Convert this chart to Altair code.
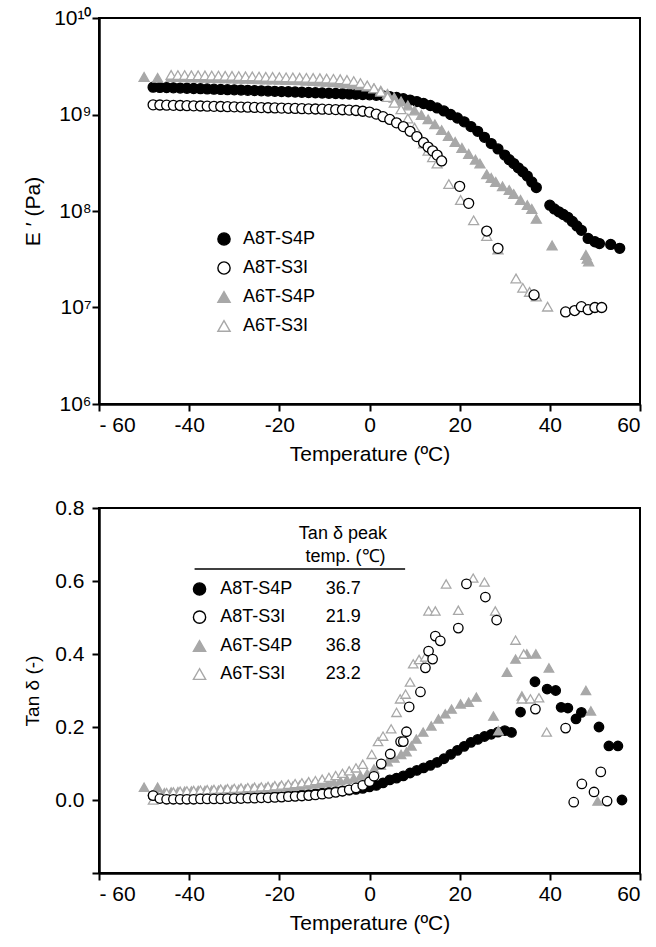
import altair as alt
import pandas as pd

FONT = "Liberation Sans"
SERIES = ["A8T-S4P", "A8T-S3I", "A6T-S4P", "A6T-S3I"]
SHAPES = ["circle", "circle", "triangle-up", "triangle-up"]
FILLS = ["black", "white", "#a8a8a8", "white"]
STROKES = ["black", "black", "#a8a8a8", "#a8a8a8"]

# ---------------- Storage modulus E' (Pa) ----------------
e_a8s4p_t = [-48, -46.5, -45, -43.5, -42, -40.5, -39, -37.5, -36, -34.5, -33, -31.5, -30, -28.5, -27, -25.5,
             -24, -22.5, -21, -19.5, -18, -16.5, -15, -13.5, -12, -10.5, -9, -7.5, -6, -4.5, -3, -1.5, 0, 1.5,
             3, 4.5, 6, 7.5, 9, 10.5, 12, 13.5, 15, 16.5, 18, 19.5, 21, 22.5, 24, 25.5, 27, 28.5, 30, 31, 32,
             33, 34, 35, 36, 37, 40, 41, 42, 43, 44, 45, 46, 47, 48.5, 50, 51, 53.5, 55.5]
e_a8s4p_v = [1.92e9, 1.91e9, 1.90e9, 1.89e9, 1.88e9, 1.87e9, 1.86e9, 1.85e9, 1.84e9, 1.83e9, 1.82e9, 1.81e9,
             1.80e9, 1.79e9, 1.78e9, 1.77e9, 1.76e9, 1.75e9, 1.74e9, 1.73e9, 1.72e9, 1.71e9, 1.70e9, 1.69e9,
             1.68e9, 1.67e9, 1.66e9, 1.65e9, 1.64e9, 1.63e9, 1.62e9, 1.61e9, 1.60e9, 1.58e9, 1.56e9, 1.53e9,
             1.50e9, 1.46e9, 1.41e9, 1.36e9, 1.30e9, 1.24e9, 1.17e9, 1.09e9, 1.00e9, 9.2e8, 8.4e8, 7.5e8,
             6.7e8, 5.8e8, 5.0e8, 4.4e8, 3.8e8, 3.4e8, 3.1e8, 2.8e8, 2.55e8, 2.3e8, 2.0e8, 1.75e8, 1.15e8,
             1.05e8, 9.8e7, 9.2e7, 8.6e7, 7.8e7, 7.0e7, 6.3e7, 5.2e7, 4.8e7, 4.6e7, 4.5e7, 4.1e7]

e_a8s3i_t = [-48, -46.5, -45, -43.5, -42, -40.5, -39, -37.5, -36, -34.5, -33, -31.5, -30, -28.5, -27, -25.5,
             -24, -22.5, -21, -19.5, -18, -16.5, -15, -13.5, -12, -10.5, -9, -7.5, -6, -4.5, -3, -1.5, 0, 1.5,
             3, 4.5, 6, 7.5, 9, 10.5, 12, 13, 14, 15, 16, 20, 22, 26, 28.5, 36.5, 43.5, 45.5, 47, 48.5, 50, 51.5]
e_a8s3i_v = [1.26e9, 1.255e9, 1.25e9, 1.245e9, 1.24e9, 1.235e9, 1.23e9, 1.225e9, 1.22e9, 1.215e9, 1.21e9,
             1.205e9, 1.2e9, 1.195e9, 1.19e9, 1.185e9, 1.18e9, 1.175e9, 1.17e9, 1.165e9, 1.16e9, 1.155e9,
             1.15e9, 1.145e9, 1.14e9, 1.135e9, 1.13e9, 1.125e9, 1.12e9, 1.11e9, 1.10e9, 1.08e9, 1.06e9,
             1.01e9, 9.5e8, 8.9e8, 8.2e8, 7.5e8, 6.7e8, 5.9e8, 5.1e8, 4.6e8, 4.2e8, 3.8e8, 3.3e8, 1.8e8,
             1.2e8, 6.2e7, 4.1e7, 1.35e7, 9.0e6, 9.3e6, 1.02e7, 9.5e6, 1.0e7, 1.0e7]

e_a6s4p_t = [-50, -47, -44, -42.5, -41, -39.5, -38, -36.5, -35, -33.5, -32, -30.5, -29, -27.5, -26, -24.5,
             -23, -21.5, -20, -18.5, -17, -15.5, -14, -12.5, -11, -9.5, -8, -6.5, -5, -3.5, -2, -0.5, 1, 2.5,
             4, 5.5, 7, 8.5, 10, 11.5, 13, 14.5, 16, 17.5, 19, 20.5, 22, 23.5, 24.5, 26, 27, 28, 29.5, 31, 32,
             33.5, 35, 36, 37, 40.5, 48, 48.3, 48.6]
e_a6s4p_v = [2.45e9, 2.40e9, 2.45e9, 2.44e9, 2.43e9, 2.42e9, 2.41e9, 2.40e9, 2.39e9, 2.38e9, 2.37e9, 2.36e9,
             2.35e9, 2.34e9, 2.33e9, 2.32e9, 2.31e9, 2.30e9, 2.29e9, 2.28e9, 2.27e9, 2.26e9, 2.24e9, 2.22e9,
             2.20e9, 2.18e9, 2.16e9, 2.13e9, 2.10e9, 2.06e9, 2.01e9, 1.95e9, 1.87e9, 1.77e9, 1.64e9, 1.50e9,
             1.37e9, 1.24e9, 1.10e9, 9.9e8, 8.9e8, 7.9e8, 6.9e8, 6.0e8, 5.2e8, 4.5e8, 3.9e8, 3.4e8, 3.1e8,
             2.4e8, 2.2e8, 2.0e8, 1.8e8, 1.65e8, 1.5e8, 1.3e8, 1.15e8, 1.05e8, 8.3e7, 4.4e7, 3.5e7, 3.2e7, 3.0e7]

e_a6s3i_t = [-44, -42.5, -41, -39.5, -38, -36.5, -35, -33.5, -32, -30.5, -29, -27.5, -26, -24.5, -23, -21.5,
             -20, -18.5, -17, -15.5, -14, -12.5, -11, -9.5, -8, -6.5, -5, -3.5, -2, -0.5, 1, 2.5, 4, 5.5, 7,
             8.5, 10, 11, 12, 13, 14, 15, 17.6, 20.2, 23.1, 26, 28.5, 32.5, 34, 35.5, 37, 39.5]
e_a6s3i_v = [2.57e9, 2.56e9, 2.56e9, 2.55e9, 2.55e9, 2.54e9, 2.53e9, 2.53e9, 2.52e9, 2.51e9, 2.50e9, 2.49e9,
             2.48e9, 2.47e9, 2.46e9, 2.45e9, 2.44e9, 2.43e9, 2.42e9, 2.41e9, 2.40e9, 2.39e9, 2.38e9, 2.36e9,
             2.34e9, 2.32e9, 2.28e9, 2.22e9, 2.12e9, 2.0e9, 1.87e9, 1.72e9, 1.52e9, 1.32e9, 1.13e9, 9.1e8,
             7.3e8, 6.1e8, 5.0e8, 4.2e8, 3.6e8, 3.1e8, 1.9e8, 1.3e8, 8.0e7, 5.5e7, 4.0e7, 2.0e7, 1.6e7,
             1.45e7, 1.3e7, 1.02e7]

# ---------------- Tan delta ----------------
d_a8s4p_t = [-48, -46.5, -45, -43.5, -42, -40.5, -39, -37.5, -36, -34.5, -33, -31.5, -30, -28.5, -27, -25.5,
             -24, -22.5, -21, -19.5, -18, -16.5, -15, -13.5, -12, -10.5, -9, -7.5, -6, -4.5, -3, -1.5, 0, 1.5,
             3, 4.5, 6, 7.5, 9, 10.5, 12, 13.5, 15, 16.5, 18, 19.5, 21, 22.5, 24, 25.5, 27, 28.5, 30, 31.5,
             33.5, 36.7, 39.4, 41.3, 42.5, 44, 45.8, 47, 50.9, 53.1, 55.1, 56]
d_a8s4p_v = [0.012, 0.006, 0.005, 0.005, 0.005, 0.005, 0.005, 0.006, 0.006, 0.006, 0.006, 0.007, 0.007, 0.007,
             0.008, 0.008, 0.009, 0.009, 0.010, 0.011, 0.012, 0.013, 0.014, 0.015, 0.017, 0.019, 0.021, 0.023,
             0.025, 0.027, 0.029, 0.032, 0.036, 0.040, 0.047, 0.055, 0.060, 0.066, 0.074, 0.081, 0.088, 0.095,
             0.103, 0.113, 0.125, 0.136, 0.147, 0.158, 0.166, 0.174, 0.180, 0.186, 0.190, 0.185,
             0.241, 0.324, 0.304, 0.300, 0.254, 0.252, 0.222, 0.240, 0.200, 0.148, 0.148, 0.0]

d_a8s3i_t = [-48, -46.5, -45, -43.5, -42, -40.5, -39, -37.5, -36, -34.5, -33, -31.5, -30, -28.5, -27, -25.5,
             -24, -22.5, -21, -19.5, -18, -16.5, -15, -13.5, -12, -10.5, -9, -7.5, -6, -4.5, -3, -1.5, 0, 1,
             2.6, 4.6, 6.9, 7.5, 8.2, 8.8, 11.3, 12.4, 13.1, 14, 14.6, 15.7, 19.7, 21.5, 25.7, 28.2, 36.8,
             43.5, 45.3, 47.1, 49.8, 51.3, 52.7]
d_a8s3i_v = [0.012, 0.004, 0.002, 0.002, 0.002, 0.002, 0.002, 0.003, 0.003, 0.003, 0.003, 0.004, 0.004, 0.004,
             0.005, 0.005, 0.006, 0.006, 0.007, 0.008, 0.009, 0.010, 0.011, 0.012, 0.014, 0.016, 0.018, 0.021,
             0.024, 0.028, 0.033, 0.040, 0.050, 0.065, 0.099, 0.126, 0.160, 0.160, 0.187, 0.255, 0.296,
             0.362, 0.408, 0.386, 0.449, 0.436, 0.471, 0.592, 0.556, 0.493, 0.249, 0.197, -0.006, 0.044,
             0.022, 0.077, -0.003]

d_a6s4p_t = [-50, -47, -45.5, -44, -42.5, -41, -39.5, -38, -36.5, -35, -33.5, -32, -30.5, -29, -27.5, -26,
             -24.5, -23, -21.5, -20, -18.5, -17, -15.5, -14, -12.5, -11, -9.5, -8, -6.5, -5, -3.5, -2, -0.5,
             1, 2.5, 4, 5.5, 7, 8.2, 9.3, 10.4, 11.9, 13.7, 15.3, 16.8, 18.2, 20.2, 22, 23.7, 27.5, 28.6, 30.5,
             32.4, 33.8, 34.9, 36.9, 39.8, 48, 49.1, 50.6]
d_a6s4p_v = [0.035, 0.035, 0.020, 0.022, 0.023, 0.024, 0.025, 0.026, 0.026, 0.027, 0.027, 0.028, 0.028, 0.029,
             0.030, 0.031, 0.032, 0.033, 0.034, 0.035, 0.036, 0.038, 0.040, 0.042, 0.044, 0.046, 0.048, 0.050,
             0.053, 0.056, 0.060, 0.066, 0.072, 0.085, 0.095, 0.105, 0.115, 0.125, 0.132, 0.148, 0.167, 0.186,
             0.203, 0.222, 0.236, 0.249, 0.263, 0.268, 0.282, 0.230, 0.190, 0.350, 0.386, 0.285, 0.400,
             0.400, 0.362, 0.300, 0.244, -0.003]

d_a6s3i_t = [-48, -46.5, -45, -43.5, -42, -40.5, -39, -37.5, -36, -34.5, -33, -31.5, -30, -28.5, -27, -25.5,
             -24, -22.5, -21, -19.5, -18, -16.5, -15, -13.5, -12, -10.5, -9, -7.5, -6, -4.5, -3, -1.5, 0.5,
             1.9, 3, 4.8, 6, 6.8, 8, 9, 9.7, 11, 12.4, 13.1, 14.6, 17, 19.7, 23, 25.5, 27.9, 32.4, 34.2, 33.8,
             35.7, 37.6, 39.3]
d_a6s3i_v = [0.0, 0.015, 0.020, 0.022, 0.024, 0.025, 0.026, 0.027, 0.028, 0.029, 0.030, 0.031, 0.032, 0.033,
             0.034, 0.035, 0.036, 0.037, 0.039, 0.041, 0.043, 0.045, 0.047, 0.050, 0.053, 0.057, 0.062, 0.067,
             0.073, 0.080, 0.088, 0.098, 0.125, 0.160, 0.175, 0.195, 0.240, 0.277, 0.290, 0.323, 0.373, 0.385,
             0.392, 0.518, 0.518, 0.592, 0.520, 0.608, 0.597, 0.518, 0.438, 0.400, 0.277, 0.277, 0.280, 0.186]

# ---------------- Tan delta peak table ----------------
table_rows_y = [0.578, 0.501, 0.422, 0.345]
table_values = ["36.7", "21.9", "36.8", "23.2"]
table_symbol_x = -37.7
table_name_x = -33.1
table_value_x = -9.7
header_lines = ["Tan δ peak", "temp. (℃)"]
header_x = [-5.9, -5.3]
header_y = [0.729, 0.666]
rule_x = [-38.8, 7.9]
rule_y = 0.633

DRAW_ORDER = ["A8T-S4P", "A6T-S4P", "A6T-S3I", "A8T-S3I"]


def frame(pairs):
    rows = []
    order = {s: i for i, s in enumerate(DRAW_ORDER)}
    for name, ts, vs in pairs:
        for t, v in zip(ts, vs):
            rows.append({"series": name, "T": t, "v": v, "o": order[name]})
    return pd.DataFrame(rows).sort_values("o", kind="stable")


df_e = frame([("A8T-S4P", e_a8s4p_t, e_a8s4p_v), ("A8T-S3I", e_a8s3i_t, e_a8s3i_v),
              ("A6T-S4P", e_a6s4p_t, e_a6s4p_v), ("A6T-S3I", e_a6s3i_t, e_a6s3i_v)])
df_d = frame([("A8T-S4P", d_a8s4p_t, d_a8s4p_v), ("A8T-S3I", d_a8s3i_t, d_a8s3i_v),
              ("A6T-S4P", d_a6s4p_t, d_a6s4p_v), ("A6T-S3I", d_a6s3i_t, d_a6s3i_v)])

shape_scale = alt.Scale(domain=SERIES, range=SHAPES)
fill_scale = alt.Scale(domain=SERIES, range=FILLS)
stroke_scale = alt.Scale(domain=SERIES, range=STROKES)

x_axis = alt.Axis(values=[-60, -40, -20, 0, 20, 40, 60],
                  labelExpr="datum.value == -60 ? '- 60' : '' + datum.value",
                  title="Temperature (ºC)", labelPadding=3, titlePadding=8)
x_scale = alt.Scale(domain=[-60, 60], nice=False, zero=False)

legend = alt.Legend(title=None, orient="none", legendX=116, legendY=212, symbolSize=150,
                    symbolStrokeWidth=1.4, labelFontSize=18, labelFont=FONT, rowPadding=11,
                    labelOffset=10, padding=0)

W = 541

top = alt.Chart(df_e).mark_point(opacity=1, size=100, strokeWidth=1.3).encode(
    x=alt.X("T:Q", scale=x_scale, axis=x_axis),
    y=alt.Y("v:Q", scale=alt.Scale(type="log", domain=[1e6, 1e10], nice=False),
            axis=alt.Axis(values=[1e6, 1e7, 1e8, 1e9, 1e10], title="E ′ (Pa)", labelPadding=1,
                          titlePadding=10,
                          labelExpr="datum.value >= 1e10 ? '10¹⁰' : datum.value >= 1e9 ? '10⁹' : "
                                    "datum.value >= 1e8 ? '10⁸' : datum.value >= 1e7 ? '10⁷' : '10⁶'")),
    shape=alt.Shape("series:N", scale=shape_scale, legend=legend),
    fill=alt.Fill("series:N", scale=fill_scale, legend=legend),
    stroke=alt.Stroke("series:N", scale=stroke_scale, legend=legend),
    order=alt.Order("o:Q"),
).properties(width=W, height=386)

# bottom
y_scale_d = alt.Scale(domain=[-0.2, 0.8], nice=False, zero=False)
y_axis_d = alt.Axis(values=[-0.2, 0, 0.2, 0.4, 0.6, 0.8], format=".1f", title="Tan δ  (-)",
                    labelExpr="datum.value < -0.1 ? '' : datum.label", labelPadding=8, titlePadding=12,
                    titleFontSize=19)

pts = alt.Chart(df_d).mark_point(opacity=1, size=90, strokeWidth=1.3).encode(
    x=alt.X("T:Q", scale=x_scale, axis=x_axis),
    y=alt.Y("v:Q", scale=y_scale_d, axis=y_axis_d),
    shape=alt.Shape("series:N", scale=shape_scale, legend=None),
    fill=alt.Fill("series:N", scale=fill_scale, legend=None),
    stroke=alt.Stroke("series:N", scale=stroke_scale, legend=None),
    order=alt.Order("o:Q"),
)

df_tab = pd.DataFrame({"series": SERIES, "y": table_rows_y, "val": table_values,
                       "sx": [table_symbol_x] * 4, "nx": [table_name_x] * 4, "vx": [table_value_x] * 4})

tab_sym = alt.Chart(df_tab).mark_point(opacity=1, size=150, strokeWidth=1.4).encode(
    x=alt.X("sx:Q", scale=x_scale),
    y=alt.Y("y:Q", scale=y_scale_d),
    shape=alt.Shape("series:N", scale=shape_scale, legend=None),
    fill=alt.Fill("series:N", scale=fill_scale, legend=None),
    stroke=alt.Stroke("series:N", scale=stroke_scale, legend=None),
)
tab_names = alt.Chart(df_tab).mark_text(align="left", baseline="middle", fontSize=18, font=FONT,
                                        color="black").encode(
    x=alt.X("nx:Q", scale=x_scale), y=alt.Y("y:Q", scale=y_scale_d), text="series:N")
tab_vals = alt.Chart(df_tab).mark_text(align="left", baseline="middle", fontSize=18, font=FONT,
                                       color="black").encode(
    x=alt.X("vx:Q", scale=x_scale), y=alt.Y("y:Q", scale=y_scale_d), text="val:N")

df_head = pd.DataFrame({"t": header_lines, "x": header_x, "y": header_y})
tab_head = alt.Chart(df_head).mark_text(align="center", baseline="middle", fontSize=18, font=FONT,
                                        color="black").encode(
    x=alt.X("x:Q", scale=x_scale), y=alt.Y("y:Q", scale=y_scale_d), text="t:N")
df_rule = pd.DataFrame({"x": [rule_x[0]], "x2": [rule_x[1]], "y": [rule_y]})
tab_rule = alt.Chart(df_rule).mark_rule(color="black", strokeWidth=1.5).encode(
    x=alt.X("x:Q", scale=x_scale), x2="x2:Q", y=alt.Y("y:Q", scale=y_scale_d))

bottom = alt.layer(pts, tab_rule, tab_head, tab_sym, tab_names, tab_vals).properties(width=W, height=365)

chart = alt.vconcat(top, bottom, spacing=31).resolve_scale(
    shape="independent", fill="independent", stroke="independent"
).resolve_legend(shape="independent", fill="independent", stroke="independent").properties(
    padding={"left": 21, "top": 6, "right": 0, "bottom": 5}
).configure(font=FONT).configure_view(stroke="black", strokeWidth=2).configure_axis(
    grid=False, domainColor="black", domainWidth=2.5, tickColor="black", tickWidth=2, tickSize=7,
    labelColor="black", titleColor="black", labelFont=FONT, titleFont=FONT, labelFontSize=21,
    titleFontSize=21, titleFontWeight="normal"
)

chart.save("out.html", embed_options={"renderer": "svg", "actions": False})
